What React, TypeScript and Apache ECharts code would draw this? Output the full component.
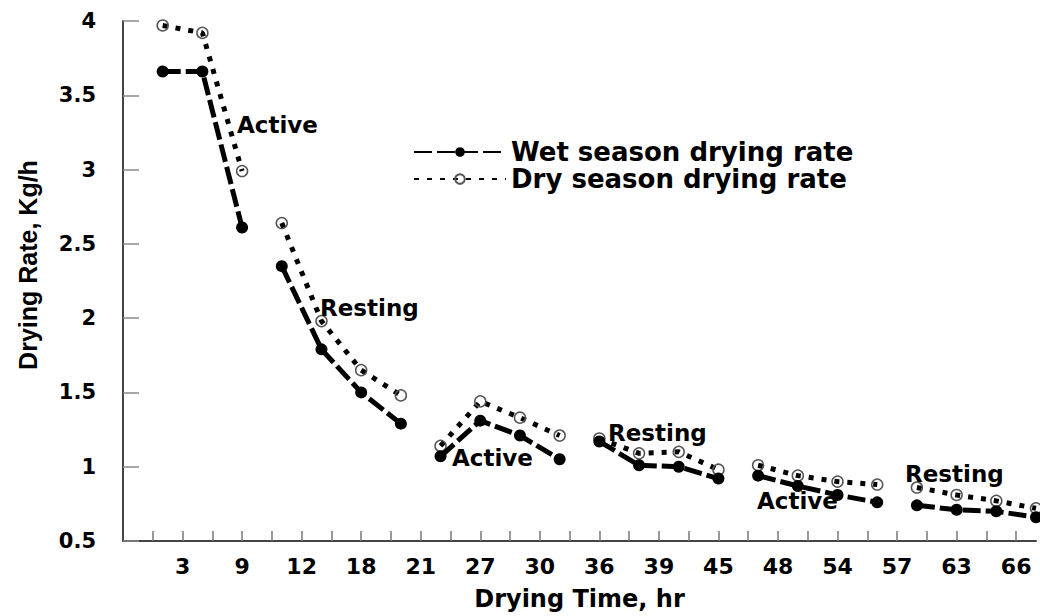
import React, { useEffect, useRef } from 'react';
import * as echarts from 'echarts';

// Drying time (hours) of each measurement
const hours = [2, 4, 6, 8, 10, 12, 14, 16, 18, 20, 22, 24, 26, 28, 30, 32, 34, 36, 38, 40, 42, 44, 46];
// Drying rate, kg/h
const wetRate = [3.66, 3.66, 2.61, 2.35, 1.79, 1.5, 1.29, 1.07, 1.31, 1.21, 1.05, 1.17, 1.01, 1.0, 0.92, 0.94, 0.87, 0.81, 0.76, 0.74, 0.71, 0.7, 0.66];
const dryRate = [3.97, 3.92, 2.99, 2.64, 1.98, 1.65, 1.48, 1.14, 1.44, 1.33, 1.21, 1.19, 1.09, 1.1, 0.98, 1.01, 0.94, 0.9, 0.88, 0.86, 0.81, 0.77, 0.72];
// hours at which a new drying phase begins (line is broken there)
const phaseStartHours = [8, 16, 24, 32, 40];
// x-axis tick labels as printed on the original chart
const xTickLabels = ['3', '9', '12', '18', '21', '27', '30', '36', '39', '45', '48', '54', '57', '63', '66'];
const phaseNotes = ['Active', 'Resting', 'Active', 'Resting', 'Active', 'Resting'];

// layout of the phase notes (pixels)
const notePos = [[237, 125], [320, 308], [452, 458], [608, 433], [757, 501], [905, 474]];

const BOLD = 'DejaVu Sans';

function withBreaks(values: number[]) {
  const out: any[] = [];
  hours.forEach((h, i) => {
    if (phaseStartHours.includes(h)) out.push(['-', '-']);
    out.push([h, values[i]]);
  });
  return out;
}

const tickValues: number[] = [];
for (let v = 1.5; v <= 45; v += 1.5) tickValues.push(v);
const labelValues = xTickLabels.map((_, i) => 3 * (i + 1));

const option: any = {
  animation: false,
  backgroundColor: '#fff',
  grid: { left: 123, right: 4, top: 21, bottom: 75, containLabel: false },
  legend: {
    orient: 'vertical',
    left: 408,
    top: 134,
    itemWidth: 92,
    itemHeight: 12,
    itemGap: 1,
    textStyle: { fontFamily: BOLD, fontWeight: 'bold', fontSize: 26, color: '#000' },
    data: ['Wet season drying rate', 'Dry season drying rate'],
  },
  xAxis: {
    type: 'value',
    min: 0,
    max: 46,
    interval: 1.5,
    axisLine: { show: true, lineStyle: { color: '#444', width: 2 } },
    axisTick: { show: true, inside: true, length: 10, customValues: tickValues, lineStyle: { color: '#777', width: 1.5 } },
    axisLabel: {
      customValues: labelValues,
      formatter: (v: number) => {
        const i = Math.round(v / 3) - 1;
        return Math.abs(v / 3 - Math.round(v / 3)) < 1e-6 && xTickLabels[i] ? xTickLabels[i] : '';
      },
      fontFamily: BOLD,
      fontWeight: 'bold',
      fontSize: 22,
      color: '#000',
      margin: 14,
    },
    splitLine: { show: false },
    name: 'Drying Time, hr',
    nameLocation: 'middle',
    nameGap: 46,
    nameTextStyle: { fontFamily: BOLD, fontWeight: 'bold', fontSize: 24, color: '#000' },
  },
  yAxis: {
    type: 'value',
    min: 0.5,
    max: 4,
    interval: 0.5,
    axisLine: { show: true, lineStyle: { color: '#444', width: 2 } },
    axisTick: { show: true, inside: true, length: 16, lineStyle: { color: '#888', width: 1.5 } },
    axisLabel: { fontFamily: BOLD, fontWeight: 'bold', fontSize: 21, color: '#000', margin: 27 },
    splitLine: { show: false },
    name: 'Drying Rate, Kg/h',
    nameLocation: 'middle',
    nameGap: 83,
    nameRotate: 90,
    nameTextStyle: { fontFamily: 'Liberation Sans', fontWeight: 'bold', fontSize: 25, color: '#000', padding: [0, 0, 0, 32] },
  },
  series: [
    {
      name: 'Wet season drying rate',
      type: 'line',
      data: withBreaks(wetRate),
      connectNulls: false,
      clip: false,
      symbol: 'circle',
      symbolSize: 12,
      itemStyle: { color: '#000' },
      lineStyle: { color: '#000', width: 5, type: [18, 5] },
      z: 3,
    },
    {
      name: 'Dry season drying rate',
      type: 'line',
      data: withBreaks(dryRate),
      connectNulls: false,
      clip: false,
      symbol: 'circle',
      symbolSize: 11,
      itemStyle: { color: 'rgba(255,255,255,0)', borderColor: '#555', borderWidth: 1.5 },
      lineStyle: { color: '#000', width: 5, type: [5, 8] },
      z: 2,
    },
  ],
  graphic: phaseNotes.map((t, i) => ({
    type: 'text',
    x: notePos[i][0],
    y: notePos[i][1],
    z: 10,
    style: {
      text: t,
      fontFamily: BOLD,
      fontWeight: 'bold',
      fontSize: 23,
      fill: '#000',
      align: 'left',
      verticalAlign: 'middle',
    },
  })),
};

export default function App() {
  const ref = useRef<HTMLDivElement>(null);
  useEffect(() => {
    const chart = echarts.init(ref.current as HTMLDivElement, null, { renderer: 'svg' });
    chart.setOption(option);
    return () => chart.dispose();
  }, []);
  return (
    <div
      ref={ref}
      style={{ position: 'fixed', left: 0, top: 0, width: 1040, height: 616, background: '#fff' }}
    />
  );
}
